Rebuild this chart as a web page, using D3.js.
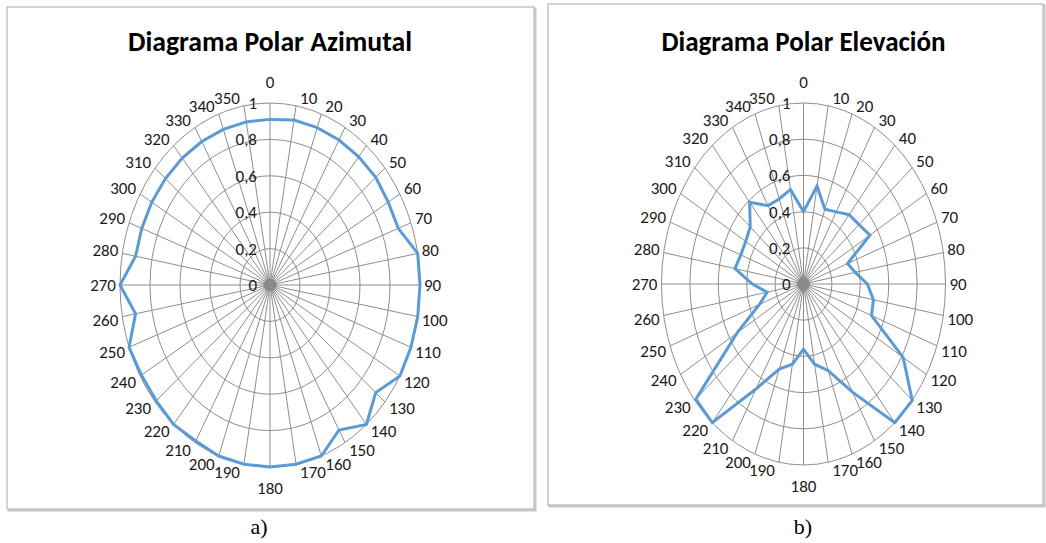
<!DOCTYPE html>
<html>
<head>
<meta charset="utf-8">
<script src="https://cdn.jsdelivr.net/npm/d3@7"></script>
<style>
  html, body { margin: 0; padding: 0; background: #fff; }
  svg { display: block; }
</style>
</head>
<body>
<svg id="chart" width="1046" height="543"></svg>
<script>
// ── Data ───────────────────────────────────────────────
const angles = [0, 10, 20, 30, 40, 50, 60, 70, 80, 90, 100, 110,
                120, 130, 140, 150, 160, 170, 180, 190, 200, 210, 220, 230,
                240, 250, 260, 270, 280, 290, 300, 310, 320, 330, 340, 350];

const azimutal = [0.91, 0.92, 0.92, 0.92, 0.92, 0.92, 0.91, 0.91, 1.00, 1.00, 1.00, 1.00,
                  1.00, 0.92, 1.00, 0.92, 1.00, 1.00, 1.00, 1.00, 1.00, 0.99, 1.00, 0.99,
                  0.99, 1.00, 0.91, 1.00, 0.91, 0.91, 0.91, 0.91, 0.91, 0.91, 0.91, 0.91];

const elevacion = [0.40, 0.55, 0.44, 0.46, 0.50, 0.51, 0.54, 0.33, 0.37, 0.45, 0.50, 0.51,
                   0.81, 1.00, 1.00, 0.69, 0.51, 0.45, 0.36, 0.45, 0.50, 0.67, 1.00, 0.99,
                   0.54, 0.33, 0.26, 0.36, 0.49, 0.47, 0.47, 0.49, 0.59, 0.50, 0.50, 0.53];

const ringTicks  = [0, 0.2, 0.4, 0.6, 0.8, 1];
const ringLabels = ['0', '0,2', '0,4', '0,6', '0,8', '1'];

const titles  = ['Diagrama Polar Azimutal', 'Diagrama Polar Elevación'];
const captions = ['a)', 'b)'];

// ── Drawing ────────────────────────────────────────────
const svg = d3.select('#chart');
const labelFont = "Carlito, 'Liberation Sans Narrow', 'Open Sans', sans-serif";
const gridColor = '#8e8e8e';

const panels = [
  { box: [7, 7, 527, 502],   cx: 270,   cy: 285, rx: 150, ry: 182, values: azimutal,  title: titles[0], caption: captions[0], capX: 259 },
  { box: [548, 4, 495, 501], cx: 803.5, cy: 284, rx: 142, ry: 181, values: elevacion, title: titles[1], caption: captions[1], capX: 803 },
];

panels.forEach(p => {
  const g = svg.append('g');

  // panel frame
  const [bx, by, bw, bh] = p.box;
  g.append('rect')
    .attr('x', bx + 1.5).attr('y', by + 1.5).attr('width', bw).attr('height', bh)
    .attr('fill', 'none').attr('stroke', '#c8c8c8').attr('stroke-width', 2);
  g.append('rect')
    .attr('x', bx).attr('y', by).attr('width', bw).attr('height', bh)
    .attr('fill', '#fff').attr('stroke', '#a8a8a8').attr('stroke-width', 1);

  // title
  g.append('text')
    .attr('x', p.cx).attr('y', 51)
    .attr('text-anchor', 'middle')
    .attr('font-family', labelFont)
    .attr('font-weight', 'bold')
    .attr('font-size', '28px')
    .attr('fill', '#000')
    .attr('textLength', 284).attr('lengthAdjust', 'spacingAndGlyphs')
    .text(p.title);

  // scales
  const a  = d3.scaleLinear().domain([0, 360]).range([0, 2 * Math.PI]);
  const sx = d3.scaleLinear().domain([0, 1]).range([0, p.rx]);
  const sy = d3.scaleLinear().domain([0, 1]).range([0, p.ry]);
  const px = (deg, v) => p.cx + sx(v) * Math.sin(a(deg));
  const py = (deg, v) => p.cy - sy(v) * Math.cos(a(deg));

  const plot = g.append('g');

  // spokes
  plot.selectAll('.spoke').data(angles).enter().append('line')
    .attr('x1', p.cx).attr('y1', p.cy)
    .attr('x2', d => px(d, 1)).attr('y2', d => py(d, 1))
    .attr('stroke', gridColor).attr('stroke-width', 1);

  // rings
  plot.selectAll('.ring').data(ringTicks.filter(t => t > 0)).enter().append('ellipse')
    .attr('cx', p.cx).attr('cy', p.cy)
    .attr('rx', d => sx(d)).attr('ry', d => sy(d))
    .attr('fill', 'none').attr('stroke', gridColor).attr('stroke-width', 1);

  plot.append('circle')
    .attr('cx', p.cx).attr('cy', p.cy).attr('r', 6.5)
    .attr('fill', '#8a8a8a');

  // ring value labels
  plot.selectAll('.rlab').data(ringTicks).enter().append('text')
    .attr('x', p.cx - 13)
    .attr('y', d => p.cy - sy(d))
    .attr('dy', '0.35em')
    .attr('text-anchor', 'end')
    .attr('font-family', labelFont)
    .attr('font-size', '17px')
    .attr('fill', '#1a1a1a')
    .text((d, i) => ringLabels[i]);

  // angle labels: box corner sits just outside the outer ring
  const isAxis = d => Math.abs(Math.sin(a(d))) < 0.05;
  plot.selectAll('.alab').data(angles).enter().append('text')
    .attr('x', d => {
      const s = Math.sin(a(d));
      return px(d, 1) + (isAxis(d) ? 0 : 4 * Math.sign(s));
    })
    .attr('y', d => {
      const c = Math.cos(a(d));
      const off = isAxis(d) ? 21 : 8 * Math.sqrt(Math.abs(c));
      return py(d, 1) - Math.sign(c) * off;
    })
    .attr('dy', '0.35em')
    .attr('text-anchor', d => {
      const s = Math.sin(a(d));
      return isAxis(d) ? 'middle' : (s > 0 ? 'start' : 'end');
    })
    .attr('font-family', labelFont)
    .attr('font-size', '17px')
    .attr('fill', '#1a1a1a')
    .text(d => d);

  // series
  const line = d3.line()
    .x((d, i) => px(angles[i], d))
    .y((d, i) => py(angles[i], d))
    .curve(d3.curveLinearClosed);

  plot.append('path')
    .attr('d', line(p.values))
    .attr('fill', 'none')
    .attr('stroke', '#5b9bd5')
    .attr('stroke-width', 3)
    .attr('stroke-linejoin', 'miter');

  // caption
  svg.append('text')
    .attr('x', p.capX).attr('y', 534)
    .attr('text-anchor', 'middle')
    .attr('font-family', "'Liberation Serif', 'DejaVu Serif', serif")
    .attr('font-size', '22px')
    .attr('fill', '#000')
    .text(p.caption);
});
</script>
</body>
</html>
